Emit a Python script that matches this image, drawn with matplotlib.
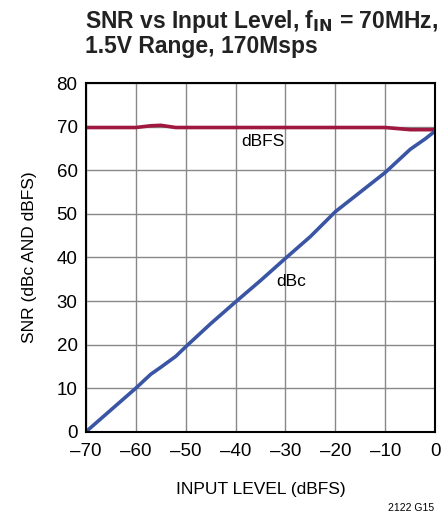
import matplotlib
matplotlib.use("Agg")
import matplotlib.pyplot as plt

plt.rcParams['font.family'] = ['Liberation Sans', 'DejaVu Sans']

# input level sweep (dBFS)
level = [-70, -65, -60, -57, -55, -52, -50, -45, -40, -35, -30, -25, -20, -15, -10, -5, -2, 0]
snr_dbfs = [69.8, 69.8, 69.8, 70.2, 70.3, 69.8, 69.8, 69.8, 69.8, 69.8, 69.8, 69.8, 69.8, 69.8, 69.8, 69.3, 69.3, 69.3]
snr_dbc = [0.0, 5.0, 10.0, 13.2, 14.8, 17.3, 19.5, 24.8, 29.8, 34.7, 39.8, 44.8, 50.5, 55.0, 59.5, 64.8, 67.2, 69.0]

fig = plt.figure(figsize=(4.45, 5.19), dpi=100)
ax = fig.add_axes([0.193, 0.168, 0.785, 0.672])

ax.plot(level, snr_dbfs, color="#a0183f", lw=2.6, solid_capstyle="butt")
ax.plot(level, snr_dbc, color="#3b55a5", lw=2.6, solid_capstyle="butt")

ax.set_xlim(-70, 0)
ax.set_ylim(0, 80)
ax.set_xticks(range(-70, 1, 10))
ax.set_xticklabels(["\u201370", "\u201360", "\u201350", "\u201340", "\u201330", "\u201320", "\u201310", "0"])
ax.set_yticks(range(0, 81, 10))
ax.grid(True, color="#888888", lw=1.0)
ax.set_axisbelow(True)
ax.tick_params(length=0, labelsize=13.5)
ax.tick_params(axis="x", pad=8)
ax.tick_params(axis="y", pad=6)
for s in ax.spines.values():
    s.set_linewidth(1.5)

ax.text(-34.5, 66.5, "dBFS", fontsize=12.5, ha="center", va="center")
ax.text(-28.8, 34.5, "dBc", fontsize=12.5, ha="center", va="center")

ax.set_xlabel("INPUT LEVEL (dBFS)", fontsize=12.5, labelpad=16)
ax.set_ylabel("SNR (dBc AND dBFS)", fontsize=12.5, labelpad=14)

fig.text(0.19, 0.985, "SNR vs Input Level, f$_{\\mathbf{IN}}$ = 70MHz,\n1.5V Range, 170Msps",
         fontsize=16.5, fontweight="bold", ha="left", va="top", color="#222222", linespacing=1.0)
fig.text(0.975, 0.012, "2122 G15", fontsize=7.5, ha="right", va="bottom")

fig.savefig("out.png", dpi=100)
